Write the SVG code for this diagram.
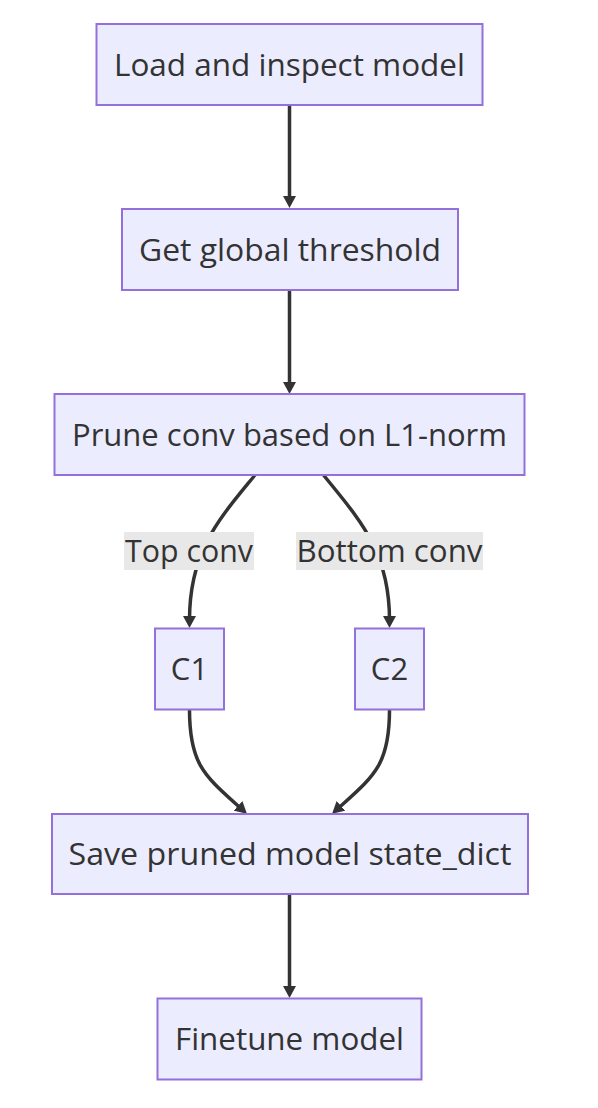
<svg xmlns="http://www.w3.org/2000/svg" width="598" height="1108" viewBox="0 0 598 1108">
<style>
.node rect{fill:#ECECFF;stroke:#9370DB;stroke-width:2}
text{font-family:"Open Sans","Liberation Sans",sans-serif;font-size:31px;fill:#333;text-anchor:middle}
.edge{fill:none;stroke:#333;stroke-width:3.5;marker-end:url(#arr)}
.lbl rect{fill:#e8e8e8;stroke:none}
</style>
<defs>
<marker id="arr" viewBox="0 0 12 13" refX="4" refY="6.5" markerWidth="12" markerHeight="13" markerUnits="userSpaceOnUse" orient="auto">
<path d="M0,0 L12,6.5 L0,13 z" fill="#333"/>
</marker>
</defs>
<rect width="598" height="1108" fill="#fff"/>
<g id="edges">
<path class="edge" d="M289.5,105 L289.5,200"/>
<path class="edge" d="M289.5,290 L289.5,386"/>
<path class="edge" d="M255,475 C220,518 189.5,550 189.5,620"/>
<path class="edge" d="M323.5,475 C358,518 389.5,550 389.5,620"/>
<path class="edge" d="M189.5,710 C189.5,765 205,776 241,808.5"/>
<path class="edge" d="M389.5,710 C389.5,765 374,776 338,808.5"/>
<path class="edge" d="M289.5,894 L289.5,990"/>
</g>
<g id="edge-labels" class="lbl">
<g id="label-top"><rect x="124" y="532" width="130" height="38"/><text x="189" y="562" textLength="128" lengthAdjust="spacingAndGlyphs">Top conv</text></g>
<g id="label-bottom"><rect x="296" y="532" width="187" height="38"/><text x="389.5" y="562" textLength="186" lengthAdjust="spacingAndGlyphs">Bottom conv</text></g>
</g>
<g id="A" class="node"><rect x="96.5" y="24" width="386" height="81"/><text x="289.5" y="76" textLength="351" lengthAdjust="spacingAndGlyphs">Load and inspect model</text></g>
<g id="B" class="node"><rect x="122" y="209" width="336" height="81"/><text x="290" y="261" textLength="302" lengthAdjust="spacingAndGlyphs">Get global threshold</text></g>
<g id="C" class="node"><rect x="54.5" y="394" width="470" height="81"/><text x="289.5" y="445.5" textLength="435" lengthAdjust="spacingAndGlyphs">Prune conv based on L1-norm</text></g>
<g id="C1" class="node"><rect x="155" y="628.5" width="69" height="81"/><text x="189.5" y="680">C1</text></g>
<g id="C2" class="node"><rect x="355" y="628.5" width="69" height="81"/><text x="389.5" y="680">C2</text></g>
<g id="D" class="node"><rect x="52" y="814" width="476" height="80"/><text x="290" y="865" textLength="443" lengthAdjust="spacingAndGlyphs">Save pruned model state_dict</text></g>
<g id="E" class="node"><rect x="157.5" y="998.5" width="264" height="81"/><text x="289.5" y="1050" textLength="229" lengthAdjust="spacingAndGlyphs">Finetune model</text></g>
</svg>
